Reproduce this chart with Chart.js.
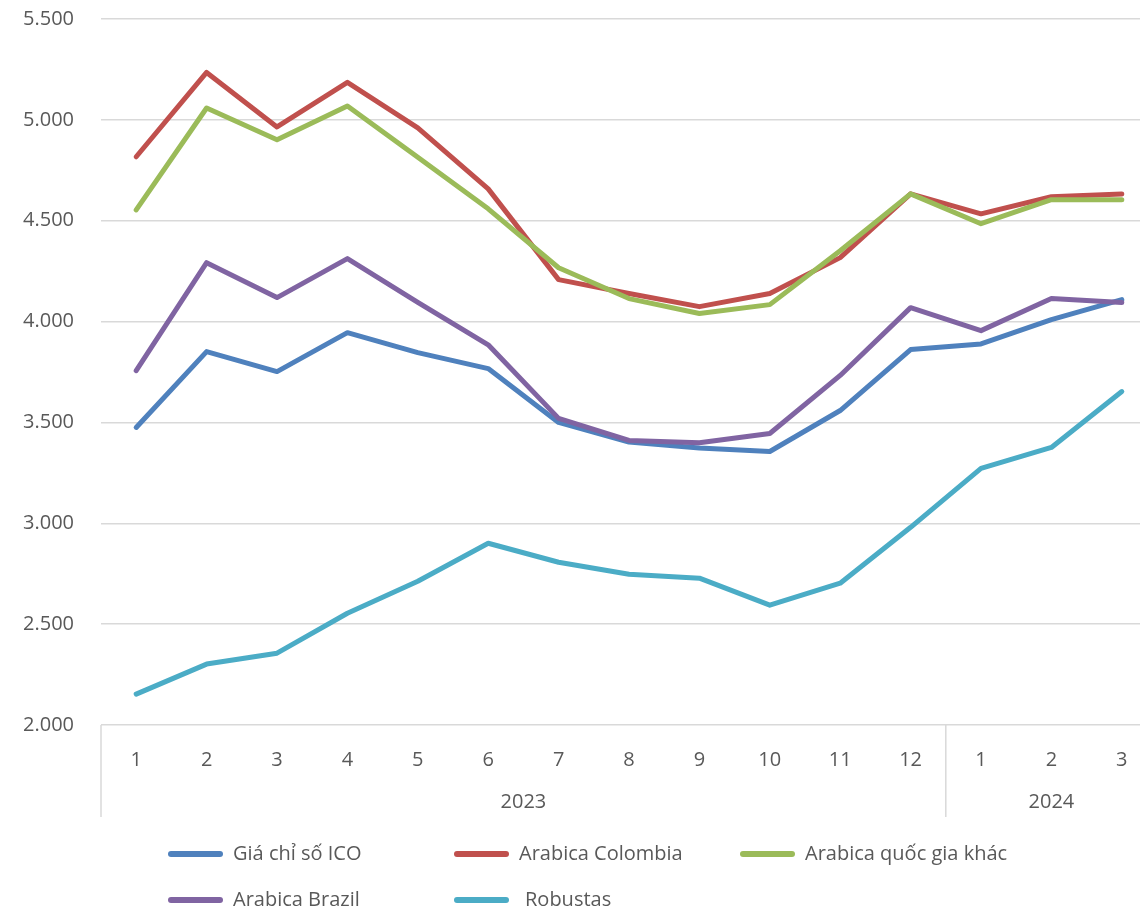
<!DOCTYPE html>
<html>
<head>
<meta charset="utf-8">
<script src="https://cdn.jsdelivr.net/npm/chart.js@4/dist/chart.umd.min.js"></script>
<style>
  html, body { margin: 0; padding: 0; background: #fff; overflow: hidden; }
  #wrap { position: relative; width: 1160px; height: 909px; }
  #legend { position: absolute; left: 0; top: 0; width: 1140px; height: 909px; pointer-events: none; }
  .item { position: absolute; height: 24px; font: 20px "Open Sans", sans-serif; color: #595959; white-space: nowrap; }
  .item .swatch { position: absolute; left: 0; top: 9px; width: 55px; height: 6px; border-radius: 3px; }
  .item .label { position: absolute; top: -3px; }
</style>
</head>
<body>
<div id="wrap">
  <canvas id="chart" width="1160" height="909"></canvas>
  <div id="legend"></div>
</div>
<script>
const months = ["1", "2", "3", "4", "5", "6", "7", "8", "9", "10", "11", "12", "1", "2", "3"];
const years = [
  { label: "2023", from: 0, to: 11 },
  { label: "2024", from: 12, to: 14 }
];

const icoPrice = [3475, 3851, 3752, 3945, 3846, 3767, 3500, 3403, 3373, 3356, 3559, 3861, 3889, 4010, 4109];
const colombia = [4817, 5235, 4965, 5186, 4960, 4658, 4208, 4139, 4074, 4139, 4317, 4633, 4534, 4619, 4633];
const otherArabica = [4554, 5059, 4901, 5069, 4815, 4559, 4267, 4114, 4040, 4084, 4351, 4633, 4485, 4604, 4604];
const brazil = [3757, 4292, 4119, 4312, 4095, 3885, 3520, 3411, 3399, 3445, 3733, 4069, 3955, 4114, 4094];
const robustas = [2153, 2302, 2356, 2554, 2713, 2901, 2807, 2747, 2728, 2594, 2703, 2980, 3272, 3376, 3653];

const seriesNames = ["Giá chỉ số ICO", "Arabica Colombia", "Arabica quốc gia khác", "Arabica Brazil", "Robustas"];
const seriesData = [icoPrice, colombia, otherArabica, brazil, robustas];
const seriesColors = ["#4F81BD", "#C0504D", "#9BBB59", "#8064A2", "#4BACC6"];

const textColor = "#595959";
const gridColor = "#D9D9D9";
const fontFamily = '"Open Sans", sans-serif';

// year row under the month labels, plus the separators
const yearRow = {
  id: "yearRow",
  afterDraw(chart) {
    const ctx = chart.ctx;
    const x = chart.scales.x;
    const top = chart.chartArea.bottom;
    const half = (x.getPixelForValue(1) - x.getPixelForValue(0)) / 2;
    ctx.save();
    ctx.strokeStyle = gridColor;
    ctx.lineWidth = 1.5;
    ctx.fillStyle = textColor;
    ctx.font = "20px " + fontFamily;
    ctx.textAlign = "center";
    ctx.textBaseline = "middle";
    years.forEach(y => {
      const left = x.getPixelForValue(y.from) - half;
      const right = x.getPixelForValue(y.to) + half;
      ctx.beginPath();
      ctx.moveTo(left, top);
      ctx.lineTo(left, top + 92);
      ctx.stroke();
      ctx.fillText(y.label, (left + right) / 2, top + 77);
    });
    ctx.restore();
  }
};

const datasets = seriesNames.map((name, i) => ({
  label: name,
  data: seriesData[i],
  borderColor: seriesColors[i],
  backgroundColor: seriesColors[i],
  borderWidth: 5,
  borderCapStyle: "round",
  borderJoinStyle: "round",
  pointRadius: 0,
  tension: 0,
  fill: false,
  order: seriesNames.length - i
}));

new Chart(document.getElementById("chart"), {
  type: "line",
  data: { labels: months, datasets },
  plugins: [yearRow],
  options: {
    responsive: false,
    animation: false,
    layout: { padding: { top: 19, right: 3, bottom: 0, left: 0 } },
    plugins: {
      legend: { display: false },
      tooltip: { enabled: false }
    },
    scales: {
      x: {
        offset: true,
        grid: { display: false },
        border: { display: false },
        ticks: {
          color: textColor,
          font: { family: fontFamily, size: 20 },
          padding: 15,
          maxRotation: 0,
          autoSkip: false
        },
        afterFit(scale) { scale.height = 184; }
      },
      y: {
        min: 2000,
        max: 5500,
        border: { display: false },
        grid: { color: gridColor, lineWidth: 1.5, drawTicks: false },
        ticks: {
          stepSize: 500,
          color: textColor,
          font: { family: fontFamily, size: 20 },
          padding: 27,
          callback: v => v.toLocaleString("de-DE")
        },
        afterFit(scale) {
          scale.width = 101;
          scale.paddingTop = 0;
          scale.paddingBottom = 0;
        }
      }
    }
  }
});

// legend, two rows like the original
const legendPos = [[168, 842], [454, 842], [740, 842], [168, 888], [454, 888]];
const legendGap = [65, 65, 65, 65, 71];
const legend = document.getElementById("legend");
seriesNames.forEach((name, i) => {
  const item = document.createElement("div");
  item.className = "item";
  item.style.left = legendPos[i][0] + "px";
  item.style.top = legendPos[i][1] + "px";
  item.innerHTML = '<span class="swatch" style="background:' + seriesColors[i] + '"></span>' +
    '<span class="label" style="left:' + legendGap[i] + 'px">' + name + '</span>';
  legend.appendChild(item);
});
</script>
</body>
</html>
